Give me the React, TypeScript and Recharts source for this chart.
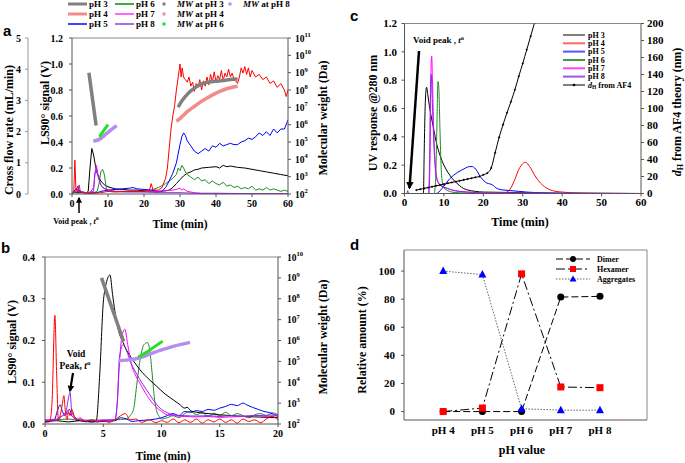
import React from 'react';
import { ComposedChart, Line, XAxis, YAxis } from 'recharts';

type P = [number, number];
const serif = "'Liberation Serif','Times New Roman',serif";
const sans = "'Liberation Sans',Arial,sans-serif";

// ---------- Panel a : LS90 signal (V) vs time (min), 0-60 min ----------
const aPH3: P[] = [[0,0.01],[2,0.01],[4,0.01],[4.5,0.02],[5,0.2],[5.5,0.35],[6,0.3],[6.5,0.22],[7,0.16],[8,0.1],[9,0.07],[10,0.055],[12,0.04],[14,0.035],[16,0.03],[18,0.03],[20,0.025],[22,0.02],[24,0.02],[26,0.025],[27,0.03],[28,0.05],[29,0.08],[30,0.11],[31,0.14],[32,0.16],[33,0.17],[34,0.185],[35,0.19],[36,0.2],[38,0.205],[40,0.21],[41,0.2],[42,0.22],[43,0.21],[44,0.215],[46,0.205],[48,0.2],[50,0.19],[52,0.18],[54,0.17],[56,0.16],[58,0.15],[60,0.14]];
const aPH4: P[] = [[0,0],[0.5,0.02],[0.8,0.26],[1.1,0.03],[1.6,0.06],[2,0.02],[3,0.01],[5,0.005],[8,0.01],[10,0.02],[12,0.015],[15,0.02],[18,0.02],[20,0.02],[21.5,0.03],[22,0.08],[22.5,0.03],[24,0.03],[25,0.05],[26,0.12],[26.5,0.2],[27,0.35],[27.5,0.5],[28,0.6],[28.5,0.68],[29,0.8],[29.5,0.9],[30,1.0],[30.3,0.9],[30.6,0.97],[31,0.9],[31.5,0.88],[32,0.86],[32.5,0.9],[33,0.83],[33.5,0.86],[34,0.79],[34.5,0.85],[35,0.82],[35.5,0.88],[36,0.8],[36.5,0.87],[37,0.83],[37.5,0.9],[38,0.84],[38.5,0.92],[39,0.86],[39.5,0.94],[40,0.86],[40.5,0.91],[41,0.88],[41.5,0.95],[42,0.87],[42.5,0.93],[43,0.9],[43.5,0.96],[44,0.9],[44.5,0.93],[45,0.88],[45.5,0.87],[46,0.85],[46.5,0.9],[47,0.97],[47.5,0.93],[48,0.98],[48.5,0.92],[49,0.97],[49.5,0.9],[50,0.95],[51,0.9],[52,0.92],[53,0.88],[54,0.9],[55,0.85],[56,0.87],[57,0.82],[58,0.85],[59,0.8],[59.5,0.75],[60,0.8]];
const aPH5: P[] = [[0,0.01],[0.8,0.03],[1.2,0.04],[1.6,0.02],[2,0.03],[3,0.01],[5,0.005],[7,0.01],[8,0.02],[10,0.03],[12,0.035],[14,0.04],[16,0.045],[17,0.05],[18,0.04],[20,0.035],[22,0.03],[24,0.02],[25,0.02],[26,0.05],[27,0.1],[28,0.16],[29,0.24],[30,0.38],[30.5,0.44],[31,0.47],[31.5,0.45],[32,0.41],[33,0.37],[34,0.33],[35,0.31],[36,0.33],[37,0.35],[38,0.33],[39,0.37],[40,0.36],[41,0.39],[42,0.37],[43,0.38],[44,0.39],[45,0.38],[46,0.38],[47,0.4],[48,0.41],[49,0.43],[50,0.42],[51,0.44],[52,0.47],[53,0.45],[54,0.48],[55,0.45],[56,0.5],[57,0.47],[58,0.5],[59,0.5],[60,0.57]];
const aPH6: P[] = [[0,0.01],[2,0.02],[4,0.01],[6,0.01],[7,0.02],[7.5,0.08],[8,0.17],[8.5,0.19],[9,0.15],[9.5,0.05],[10,0.02],[12,0.02],[15,0.02],[18,0.02],[20,0.02],[22,0.03],[24,0.05],[26,0.08],[27,0.1],[28,0.12],[29,0.15],[29.5,0.2],[30,0.18],[30.5,0.22],[31,0.2],[31.5,0.17],[32,0.15],[33,0.13],[34,0.11],[35,0.13],[36,0.1],[37,0.11],[38,0.08],[39,0.1],[40,0.08],[41,0.07],[42,0.09],[43,0.06],[44,0.07],[45,0.05],[46,0.06],[47,0.04],[48,0.05],[49,0.04],[50,0.06],[51,0.03],[52,0.04],[53,0.03],[54,0.05],[55,0.03],[56,0.04],[57,0.03],[58,0.02],[59,0.03],[60,0.02]];
const aPH7: P[] = [[0,0.01],[1,0.02],[2,0.03],[3,0.01],[5,0.01],[6,0.05],[6.5,0.18],[6.8,0.22],[7.2,0.15],[7.8,0.08],[8.5,0.05],[10,0.03],[12,0.02],[15,0.02],[20,0.02],[24,0.02],[26,0.025],[28,0.03],[29,0.035],[30,0.045],[30.5,0.03],[31,0.04],[32,0.02],[34,0.01],[36,0.005],[40,0.005],[50,0.003],[60,0.003]];
const aPH8: P[] = [[0,0.01],[1.5,0.03],[2,0.07],[2.3,0.02],[4,0.01],[6,0.02],[6.3,0.15],[6.7,0.19],[7.2,0.14],[8,0.07],[9,0.04],[10,0.03],[12,0.02],[15,0.015],[20,0.015],[25,0.01],[30,0.01],[35,0.005],[40,0.005],[50,0.003],[60,0.003]];
// molecular weight, log10(Da)
const aMW3early: P[] = [[4.7,9.0],[6.7,5.95]];
const aMW3late: P[] = [[29.5,7.0],[30,7.2],[31,7.5],[32,7.75],[33,7.95],[34,8.1],[35,8.25],[36.4,8.38],[38,8.45],[40,8.5],[42,8.55],[44,8.6],[46,8.63]];
const aMW4: P[] = [[29,6.2],[30,6.35],[31,6.55],[32,6.75],[34,7.05],[36,7.35],[38,7.6],[40,7.82],[42,8.0],[44,8.13],[46,8.22]];
const aMW6: P[] = [[7.6,5.3],[8.8,5.65],[10,6.0]];
const aMW8: P[] = [[5.9,5.05],[7,5.1],[8,5.2],[9,5.38],[10,5.56],[11,5.73],[12.4,5.95]];

// ---------- Panel b : zoom 0-20 min ----------
const bPH3: P[] = [[0,0.005],[1,0.008],[2,0.005],[3,0.008],[4,0.005],[4.4,0.008],[4.7,0.12],[5.0,0.29],[5.2,0.33],[5.58,0.357],[5.8,0.31],[6.0,0.27],[6.3,0.225],[6.7,0.195],[7.0,0.177],[7.5,0.155],[8.15,0.13],[9,0.105],[9.6,0.09],[10.3,0.072],[11,0.058],[11.5,0.048],[12,0.038],[12.2,0.04],[12.5,0.032],[13,0.028],[14,0.025],[15,0.022],[16,0.02],[17,0.018],[18,0.017],[19,0.016],[20,0.015]];
const bPH4: P[] = [[0,0.005],[0.4,0.005],[0.6,0.05],[0.85,0.26],[1.0,0.12],[1.15,0.01],[1.3,0.02],[1.5,0.05],[1.62,0.068],[1.75,0.03],[1.9,0.01],[2.0,0.03],[2.15,0.02],[2.3,0.035],[2.5,0.02],[2.8,0.01],[3,0.015],[3.5,0.005],[4,0.01],[4.5,0.005],[5,0.008],[5.5,0.004],[6,0.01],[6.5,0.02],[6.9,0.025],[7.3,0.01],[7.8,0.012],[8.3,0.004],[9,0.01],[9.5,0.003],[10,0.008],[10.5,0.004],[11,0.012],[11.5,0.003],[12,0.01],[12.5,0.004],[13,0.012],[13.5,0.002],[14,0.01],[14.5,0.005],[15,0.012],[15.5,0.004],[16,0.01],[16.5,0.002],[17,0.012],[17.5,0.006],[18,0.01],[18.5,0.003],[19,0.012],[19.5,0.018],[20,0.01]];
const bPH5: P[] = [[0,0.005],[0.8,0.01],[1.1,0.035],[1.3,0.046],[1.5,0.03],[1.7,0.02],[1.9,0.03],[2.1,0.035],[2.3,0.02],[2.6,0.012],[3,0.008],[4,0.005],[5,0.006],[6,0.008],[6.5,0.015],[7,0.012],[7.5,0.006],[8,0.008],[9,0.01],[10,0.015],[10.5,0.02],[11,0.025],[11.5,0.02],[12,0.03],[12.5,0.028],[13,0.032],[13.5,0.03],[14,0.035],[14.5,0.033],[15,0.038],[15.5,0.042],[16,0.047],[16.5,0.044],[17,0.05],[17.3,0.046],[17.8,0.04],[18.3,0.035],[18.8,0.03],[19.3,0.027],[19.7,0.022],[20,0.018]];
const bPH6: P[] = [[0,0.008],[1,0.01],[2,0.012],[3,0.008],[4,0.01],[5,0.008],[6,0.01],[7,0.012],[7.3,0.02],[7.6,0.035],[7.9,0.1],[8.2,0.16],[8.5,0.19],[8.8,0.195],[9.0,0.175],[9.2,0.12],[9.4,0.06],[9.6,0.03],[9.8,0.018],[10,0.012],[10.5,0.015],[11,0.02],[11.5,0.015],[12,0.025],[12.5,0.03],[13,0.022],[13.5,0.028],[14,0.018],[14.5,0.026],[15,0.02],[15.5,0.028],[16,0.02],[16.5,0.025],[17,0.02],[17.5,0.015],[18,0.022],[18.5,0.025],[19,0.02],[19.5,0.027],[20,0.022]];
const bPH7: P[] = [[0,0.01],[1,0.012],[1.5,0.02],[2,0.025],[2.5,0.015],[3,0.01],[4,0.008],[5,0.008],[6,0.01],[6.2,0.05],[6.4,0.15],[6.6,0.21],[6.85,0.227],[7.1,0.19],[7.4,0.145],[7.8,0.115],[8.2,0.095],[8.6,0.075],[9,0.058],[9.5,0.042],[10,0.03],[10.5,0.022],[11,0.02],[12,0.018],[13,0.017],[14,0.018],[15,0.016],[16,0.017],[17,0.018],[18,0.02],[19,0.018],[20,0.02]];
const bPH8: P[] = [[0,0.008],[1,0.01],[1.5,0.02],[1.8,0.03],[2.0,0.06],[2.15,0.076],[2.3,0.03],[2.6,0.015],[3,0.01],[4,0.008],[5,0.01],[6,0.01],[6.2,0.05],[6.4,0.16],[6.7,0.19],[7.0,0.175],[7.4,0.145],[7.9,0.118],[8.4,0.095],[9,0.07],[9.5,0.05],[10,0.035],[10.5,0.027],[11,0.022],[12,0.02],[13,0.019],[14,0.02],[15,0.018],[16,0.02],[17,0.019],[18,0.02],[19,0.021],[20,0.022]];
const bMW3: P[] = [[4.85,9.0],[6.75,5.95]];
const bMW6: P[] = [[8.0,5.2],[9,5.55],[10.1,5.97]];
const bMW8: P[] = [[6.3,5.03],[7,5.06],[8,5.15],[9,5.35],[10,5.55],[11,5.72],[12.45,5.91]];

// ---------- Panel c : UV 280 nm response ----------
const cPH3: P[] = [[0,0],[4.8,0],[5.0,0.3],[5.3,0.66],[5.6,0.75],[5.9,0.7],[6.3,0.62],[6.8,0.54],[7.3,0.47],[8,0.37],[9,0.27],[10,0.2],[11,0.15],[12,0.11],[13,0.08],[14,0.055],[15,0.035],[16,0.025],[18,0.015],[20,0.01],[25,0.008],[30,0.006],[35,0.003],[40,0],[60,0]];
const cPH4: P[] = [[0,0],[25,0],[26,0.01],[27,0.04],[28,0.1],[29,0.17],[30,0.21],[30.5,0.22],[31,0.215],[32,0.18],[33,0.13],[34,0.09],[35,0.06],[36,0.04],[37,0.025],[38,0.017],[40,0.01],[42,0.006],[45,0.003],[50,0.001],[60,0]];
const cPH5: P[] = [[0,0],[8,0],[8.7,0.01],[9.5,0.035],[10.5,0.07],[11.5,0.105],[12.5,0.13],[13.5,0.15],[14.5,0.165],[15.5,0.18],[16.5,0.19],[17.2,0.19],[17.8,0.18],[18.5,0.155],[19.2,0.12],[19.8,0.1],[20.5,0.08],[21.3,0.07],[22,0.065],[22.6,0.055],[23.2,0.04],[24,0.03],[25,0.025],[27,0.02],[29,0.015],[31,0.01],[35,0.005],[40,0.002],[60,0]];
const cPH6: P[] = [[0,0],[7.5,0],[7.9,0.1],[8.2,0.45],[8.5,0.79],[8.7,0.75],[9.0,0.45],[9.3,0.18],[9.6,0.08],[10,0.04],[11,0.02],[12,0.01],[14,0.005],[20,0.002],[60,0]];
const cPH7: P[] = [[0,0],[6.2,0],[6.5,0.3],[6.75,0.9],[6.9,0.97],[7.1,0.8],[7.4,0.45],[7.8,0.2],[8.3,0.1],[9,0.065],[10,0.045],[11,0.035],[12,0.025],[14,0.015],[16,0.01],[20,0.005],[30,0.002],[60,0]];
const cPH8: P[] = [[0,0],[0.6,0],[0.8,0.02],[1.0,0.005],[1.3,0],[6.1,0],[6.4,0.3],[6.6,0.75],[6.75,0.84],[7.0,0.7],[7.3,0.45],[7.7,0.22],[8.2,0.1],[9,0.06],[10,0.045],[11,0.035],[12,0.025],[14,0.015],[16,0.01],[20,0.005],[30,0.002],[60,0]];
const cDH: P[] = [[3,4],[4,5],[5,6],[6,7],[7,8],[8,9],[9,10],[10,11],[11,12],[12,13],[13,14],[14,15],[15,16],[16,17],[17,18],[18,19],[19,20],[20,22],[21,24],[22,30],[23,48],[24,66],[25,81],[26,95],[27,108],[28,122],[29,138],[30,153],[31,169],[32,185],[33,201]];

// ---------- Panel d : relative amounts ----------
const dPH = [4, 5, 6, 7, 8];
const dDimer = [0, 0, 0, 81.5, 82];
const dHexamer = [0, 2.5, 98, 17.5, 17];
const dAggregates = [100, 97.5, 2, 1, 1];

const pts = (a: P[]) => a.map(([t, v]) => ({ t, v }));
const dRows = dPH.map((ph, i) => ({ ph, dimer: dDimer[i], hexamer: dHexamer[i], aggregates: dAggregates[i] }));

const AX = '#555';
const FRAME = '#888';
const tickStyle = (fs: number) => ({ fontFamily: serif, fontWeight: 700, fontSize: fs, fill: '#000' });

const PowTick = (props: any) => {
  const { x, y, payload } = props;
  return (
    <text x={x} y={y + 3.5} fontFamily={serif} fontWeight={700} fontSize={9.5} fill="#000" textAnchor="start">
      <tspan>10</tspan>
      <tspan dy={-4.5} fontSize={6.5}>{payload.value}</tspan>
    </text>
  );
};

const CircleDot = (p: any) => (p.cx == null ? <g key={`c${p.index}`} /> : <circle key={`c${p.index}`} cx={p.cx} cy={p.cy} r={3.5} fill="#000" />);
const SquareDot = (p: any) => (p.cx == null ? <g key={`s${p.index}`} /> : <rect key={`s${p.index}`} x={p.cx - 3.5} y={p.cy - 3.5} width={7} height={7} fill="#ff0000" />);
const TriDot = (p: any) => (p.cx == null ? <g key={`t${p.index}`} /> : <polygon key={`t${p.index}`} points={`${p.cx},${p.cy - 4.5} ${p.cx - 4},${p.cy + 3} ${p.cx + 4},${p.cy + 3}`} fill="#0000ff" />);

const line = (key: string, data: P[], color: string, yId: string, w = 1, type: any = 'linear') => (
  <Line key={key} name={key} data={pts(data)} dataKey="v" xAxisId="x" yAxisId={yId} stroke={color} strokeWidth={w}
    dot={false} activeDot={false} isAnimationActive={false} type={type} />
);

const C = { ph3: '#000000', ph4: '#ff0000', ph5: '#0000ff', ph6: '#228b22', ph7: '#ff00ff', ph8: '#8a2be2' };
const MWC = { ph3: '#808080', ph4: '#f48a8a', ph6: '#22e022', ph8: '#b78cf0' };

const Rot = ({ x, y, fs, children }: any) => (
  <text transform={`translate(${x},${y}) rotate(-90)`} textAnchor="middle" dominantBaseline="central" fontFamily={serif} fontWeight={700} fontSize={fs} fill="#000">{children}</text>
);
const T = ({ x, y, fs, anchor = 'start', children, family = serif }: any) => (
  <text x={x} y={y} textAnchor={anchor} dominantBaseline="central" fontFamily={family} fontWeight={700} fontSize={fs} fill="#000">{children}</text>
);

export default function App() {
  const lsTicks = [0, 0.2, 0.4, 0.6, 0.8, 1.0, 1.2];
  return (
    <div style={{ position: 'absolute', left: 0, top: 0, width: 685, height: 463, background: '#fff', overflow: 'hidden' }}>
      {/* Panel a */}
      <div style={{ position: 'absolute', left: 0, top: 0 }}>
        <ComposedChart width={340} height={232} margin={{ top: 37, right: 0, bottom: 18, left: 0 }}>
          <XAxis xAxisId="x" dataKey="t" type="number" domain={[0, 60]} ticks={[0, 10, 20, 30, 40, 50, 60]} allowDataOverflow height={20} interval={0}
            tick={tickStyle(10)} tickSize={3} tickMargin={3} stroke={AX} />
          <XAxis xAxisId="top" orientation="top" type="number" domain={[0, 60]} tick={false} tickLine={false} height={1} stroke={FRAME} />
          <YAxis yAxisId="b_cf" type="number" domain={[0, 5]} ticks={[0, 1, 2, 3, 4, 5]} width={28} allowDataOverflow interval={0}
            tick={tickStyle(10)} tickSize={3} tickMargin={4} stroke="#999" />
          <YAxis yAxisId="a_ls" domain={[0, 1.2]} ticks={lsTicks} width={44} allowDataOverflow interval={0} tickFormatter={(v: number) => v.toFixed(1)}
            tick={tickStyle(10)} tickSize={3} tickMargin={6} stroke={AX} />
          <YAxis yAxisId="mw" orientation="right" domain={[2, 11]} ticks={[2, 3, 4, 5, 6, 7, 8, 9, 10, 11]} width={52} allowDataOverflow interval={0}
            tick={<PowTick />} tickSize={3} tickMargin={4} stroke={AX} />
          {line('a3', aPH3, C.ph3, 'a_ls')}
          {line('a6', aPH6, C.ph6, 'a_ls')}
          {line('a5', aPH5, C.ph5, 'a_ls')}
          {line('a7', aPH7, C.ph7, 'a_ls')}
          {line('a8', aPH8, C.ph8, 'a_ls')}
          {line('a4', aPH4, C.ph4, 'a_ls')}
          {line('am3e', aMW3early, MWC.ph3, 'mw', 3.5)}
          {line('am3l', aMW3late, MWC.ph3, 'mw', 3.5, 'monotone')}
          {line('am4', aMW4, MWC.ph4, 'mw', 3.5, 'monotone')}
          {line('am8', aMW8, MWC.ph8, 'mw', 3.5, 'monotone')}
          {line('am6', aMW6, MWC.ph6, 'mw', 3, 'monotone')}
        </ComposedChart>
      </div>

      {/* Panel b */}
      <div style={{ position: 'absolute', left: 0, top: 230 }}>
        <ComposedChart width={340} height={233} margin={{ top: 26, right: 0, bottom: 19, left: 0 }}>
          <XAxis xAxisId="x" dataKey="t" type="number" domain={[0, 20]} ticks={[0, 5, 10, 15, 20]} allowDataOverflow height={20} interval={0}
            tick={tickStyle(10)} tickSize={3} tickMargin={3} stroke={AX} />
          <XAxis xAxisId="top" orientation="top" type="number" domain={[0, 20]} tick={false} tickLine={false} height={1} stroke={FRAME} />
          <YAxis yAxisId="ls" domain={[0, 0.4]} ticks={[0, 0.1, 0.2, 0.3, 0.4]} width={45} allowDataOverflow interval={0} tickFormatter={(v: number) => v.toFixed(1)}
            tick={tickStyle(10)} tickSize={3} tickMargin={7} stroke={AX} />
          <YAxis yAxisId="mw" orientation="right" domain={[2, 10]} ticks={[2, 3, 4, 5, 6, 7, 8, 9, 10]} width={62} allowDataOverflow interval={0}
            tick={<PowTick />} tickSize={3} tickMargin={6} stroke={AX} />
          {line('b6', bPH6, C.ph6, 'ls', 1, 'monotone')}
          {line('b5', bPH5, C.ph5, 'ls', 1, 'monotone')}
          {line('b3', bPH3, C.ph3, 'ls', 1, 'monotone')}
          {line('b7', bPH7, C.ph7, 'ls', 1, 'monotone')}
          {line('b8', bPH8, C.ph8, 'ls', 1, 'monotone')}
          {line('b4', bPH4, C.ph4, 'ls', 1, 'monotone')}
          {line('bm3', bMW3, MWC.ph3, 'mw', 3.5)}
          {line('bm8', bMW8, MWC.ph8, 'mw', 3.5, 'monotone')}
          {line('bm6', bMW6, MWC.ph6, 'mw', 3, 'monotone')}
        </ComposedChart>
      </div>

      {/* Panel c */}
      <div style={{ position: 'absolute', left: 340, top: 0 }}>
        <ComposedChart width={345} height={240} margin={{ top: 22.5, right: 0, bottom: 26.5, left: 0 }}>
          <XAxis xAxisId="x" dataKey="t" type="number" domain={[0, 60]} ticks={[0, 10, 20, 30, 40, 50, 60]} allowDataOverflow height={20} interval={0}
            tick={tickStyle(11)} tickSize={3} tickMargin={2} stroke={AX} />
          <XAxis xAxisId="top" orientation="top" type="number" domain={[0, 60]} tick={false} tickLine={false} height={1} stroke={FRAME} />
          <YAxis yAxisId="uv" domain={[0, 1.2]} ticks={lsTicks} width={64.5} allowDataOverflow interval={0} tickFormatter={(v: number) => v.toFixed(1)}
            tick={tickStyle(11)} tickSize={3} tickMargin={4.5} stroke={AX} />
          <YAxis yAxisId="dh" orientation="right" domain={[0, 200]} ticks={[0, 20, 40, 60, 80, 100, 120, 140, 160, 180, 200]} width={44} allowDataOverflow interval={0}
            tick={tickStyle(11)} tickSize={3} tickMargin={3} stroke={AX} />
          {line('c3', cPH3, C.ph3, 'uv', 1, 'monotone')}
          {line('c4', cPH4, C.ph4, 'uv', 1, 'monotone')}
          {line('c5', cPH5, C.ph5, 'uv', 1, 'monotone')}
          {line('c6', cPH6, C.ph6, 'uv', 1, 'monotone')}
          {line('c7', cPH7, C.ph7, 'uv', 1, 'monotone')}
          {line('c8', cPH8, C.ph8, 'uv', 1, 'monotone')}
          <Line name="dH" data={pts(cDH)} dataKey="v" xAxisId="x" yAxisId="dh" stroke="#000" strokeWidth={1} type="monotone"
            dot={{ r: 0.8, fill: '#000', stroke: '#000', strokeWidth: 0.4 }} activeDot={false} isAnimationActive={false} />
        </ComposedChart>
      </div>

      {/* Panel d */}
      <div style={{ position: 'absolute', left: 340, top: 240 }}>
        <ComposedChart width={345} height={223} data={dRows} margin={{ top: 9, right: 0, bottom: 23, left: 0 }}>
          <XAxis xAxisId="x" dataKey="ph" type="number" domain={[3, 9.2]} ticks={dPH} allowDataOverflow height={20} interval={0}
            tickFormatter={(v: number) => `pH ${v}`} tick={tickStyle(11)} tickLine={false} tickSize={3} tickMargin={3} stroke={AX} />
          <XAxis xAxisId="top" orientation="top" type="number" domain={[3, 9.2]} tick={false} tickLine={false} height={1} stroke={FRAME} />
          <YAxis yAxisId="p" domain={[-6, 115]} ticks={[0, 20, 40, 60, 80, 100]} width={64} allowDataOverflow interval={0}
            tick={tickStyle(11)} tickSize={3} tickMargin={6} stroke={AX} />
          <YAxis yAxisId="r" orientation="right" type="number" domain={[0, 1]} tick={false} tickLine={false} width={38} stroke={FRAME} />
          <Line dataKey="dimer" xAxisId="x" yAxisId="p" stroke="#000" strokeWidth={1} strokeDasharray="7 3" type="linear"
            dot={CircleDot} activeDot={false} isAnimationActive={false} />
          <Line dataKey="hexamer" xAxisId="x" yAxisId="p" stroke="#000" strokeWidth={1} strokeDasharray="9 3 2 3" type="linear"
            dot={SquareDot} activeDot={false} isAnimationActive={false} />
          <Line dataKey="aggregates" xAxisId="x" yAxisId="p" stroke="#666" strokeWidth={1} strokeDasharray="1.5 1.5" type="linear"
            dot={TriDot} activeDot={false} isAnimationActive={false} />
        </ComposedChart>
      </div>

      {/* Annotation overlay */}
      <svg width={685} height={463} style={{ position: 'absolute', left: 0, top: 0, pointerEvents: 'none' }}>
        <defs>
          <marker id="ah" viewBox="0 0 10 10" refX="8" refY="5" markerWidth="4" markerHeight="4" orient="auto-start-reverse">
            <path d="M0,0 L10,5 L0,10 z" fill="#000" />
          </marker>
          <marker id="ah2" viewBox="0 0 10 10" refX="8" refY="5" markerWidth="3" markerHeight="3" orient="auto-start-reverse">
            <path d="M0,0 L10,5 L0,10 z" fill="#000" />
          </marker>
        </defs>

        {/* panel a */}
        <T x={3} y={30} fs={15} family={sans}>a</T>
        <Rot x={9} y={130} fs={12}>Cross flow rate (mL/min)</Rot>
        <Rot x={45} y={103} fs={12}>LS90° signal (V)</Rot>
        <Rot x={323} y={118} fs={12}>Molecular weight (Da)</Rot>
        <T x={180} y={224} fs={11.5} anchor="middle">Time (min)</T>
        <T x={76} y={221} fs={8} anchor="middle">Void peak , <tspan fontStyle="italic">t</tspan><tspan dy={-3} fontSize={6}>o</tspan></T>
        <line x1={79} y1={213} x2={79} y2={198} stroke="#000" strokeWidth={1.5} markerEnd="url(#ah)" />
        {/* legend a */}
        {[
          { x: 68, y: 4, c: MWC.ph3, t: 'pH 3', w: 3 },
          { x: 68, y: 14, c: MWC.ph4, t: 'pH 4', w: 3 },
          { x: 68, y: 24, c: '#4444ff', t: 'pH 5', w: 2 },
          { x: 115, y: 4, c: '#44aa44', t: 'pH 6', w: 2 },
          { x: 115, y: 14, c: '#ff66ff', t: 'pH 7', w: 2 },
          { x: 115, y: 24, c: '#a070ee', t: 'pH 8', w: 2 },
        ].map((it) => (
          <g key={it.t}>
            <line x1={it.x} y1={it.y} x2={it.x + 19} y2={it.y} stroke={it.c} strokeWidth={it.w} />
            <T x={it.x + 21} y={it.y} fs={9}>{it.t}</T>
          </g>
        ))}
        {[
          { x: 164, y: 4, c: MWC.ph3, t: 'pH 3' },
          { x: 164, y: 14, c: MWC.ph4, t: 'pH 4' },
          { x: 164, y: 24, c: MWC.ph6, t: 'pH 6' },
          { x: 230, y: 4, c: MWC.ph8, t: 'pH 8' },
        ].map((it) => (
          <g key={'mw' + it.t}>
            <rect x={it.x - 1.5} y={it.y - 1.5} width={3} height={3} fill={it.c} />
            <T x={it.x + 13} y={it.y} fs={9}><tspan fontStyle="italic">MW</tspan> at {it.t}</T>
          </g>
        ))}

        {/* panel b */}
        <T x={1} y={247} fs={15} family={sans}>b</T>
        <Rot x={12} y={342} fs={12}>LS90° signal (V)</Rot>
        <Rot x={323} y={337} fs={12}>Molecular weight (Da)</Rot>
        <T x={163} y={456} fs={11.5} anchor="middle">Time (min)</T>
        <T x={76} y={354} fs={9.5} anchor="middle">Void</T>
        <T x={75} y={366} fs={9.5} anchor="middle">Peak, <tspan fontStyle="italic">t</tspan><tspan dy={-3} fontSize={7}>o</tspan></T>
        <line x1={73} y1={373} x2={70} y2={391} stroke="#000" strokeWidth={2.2} markerEnd="url(#ah2)" />

        {/* panel c */}
        <T x={350} y={15} fs={15} family={sans}>c</T>
        <Rot x={373} y={113} fs={12}>UV response @280 nm</Rot>
        <Rot x={677} y={112} fs={12}><tspan fontStyle="italic">d</tspan><tspan fontSize={8} dy={3}>H</tspan><tspan dy={-3}> from AF4 theory (nm)</tspan></Rot>
        <T x={520} y={222} fs={12} anchor="middle">Time (min)</T>
        <T x={413} y={40} fs={9}>Void peak , <tspan fontStyle="italic">t</tspan><tspan dy={-3} fontSize={6.5}>o</tspan></T>
        <line x1={419} y1={51} x2={409.5} y2={188} stroke="#000" strokeWidth={2.5} markerEnd="url(#ah2)" />
        {[
          { y: 35, c: '#808080', t: 'pH 3' },
          { y: 43.3, c: '#ff6666', t: 'pH 4' },
          { y: 51.6, c: '#5555ff', t: 'pH 5' },
          { y: 60, c: '#449944', t: 'pH 6' },
          { y: 68.3, c: '#ff44ff', t: 'pH 7' },
          { y: 76.6, c: '#9955ee', t: 'pH 8' },
        ].map((it) => (
          <g key={'c' + it.t}>
            <line x1={563} y1={it.y} x2={585} y2={it.y} stroke={it.c} strokeWidth={2} />
            <T x={588} y={it.y} fs={8}>{it.t}</T>
          </g>
        ))}
        <line x1={563} y1={85} x2={585} y2={85} stroke="#000" strokeWidth={1} />
        <circle cx={574} cy={85} r={1.3} fill="#000" />
        <T x={588} y={85} fs={8}><tspan fontStyle="italic">d</tspan><tspan fontSize={5.5} dy={2}>H</tspan><tspan dy={-2}> from AF4</tspan></T>

        {/* panel d */}
        <T x={350} y={244} fs={15} family={sans}>d</T>
        <Rot x={362} y={340} fs={12}>Relative amount (%)</Rot>
        <T x={522} y={450} fs={12} anchor="middle">pH value</T>
        <line x1={556} y1={259} x2={590} y2={259} stroke="#000" strokeWidth={1} strokeDasharray="7 3" />
        <circle cx={573} cy={259} r={3} fill="#000" />
        <T x={597} y={259} fs={8}>Dimer</T>
        <line x1={556} y1={269} x2={590} y2={269} stroke="#000" strokeWidth={1} strokeDasharray="9 3 2 3" />
        <rect x={570} y={266} width={6} height={6} fill="#ff0000" />
        <T x={597} y={269} fs={8}>Hexamer</T>
        <line x1={556} y1={279} x2={590} y2={279} stroke="#666" strokeWidth={1} strokeDasharray="1.5 1.5" />
        <polygon points="573,275.5 569.5,281.5 576.5,281.5" fill="#0000ff" />
        <T x={597} y={279} fs={8}>Aggregates</T>
      </svg>
    </div>
  );
}
